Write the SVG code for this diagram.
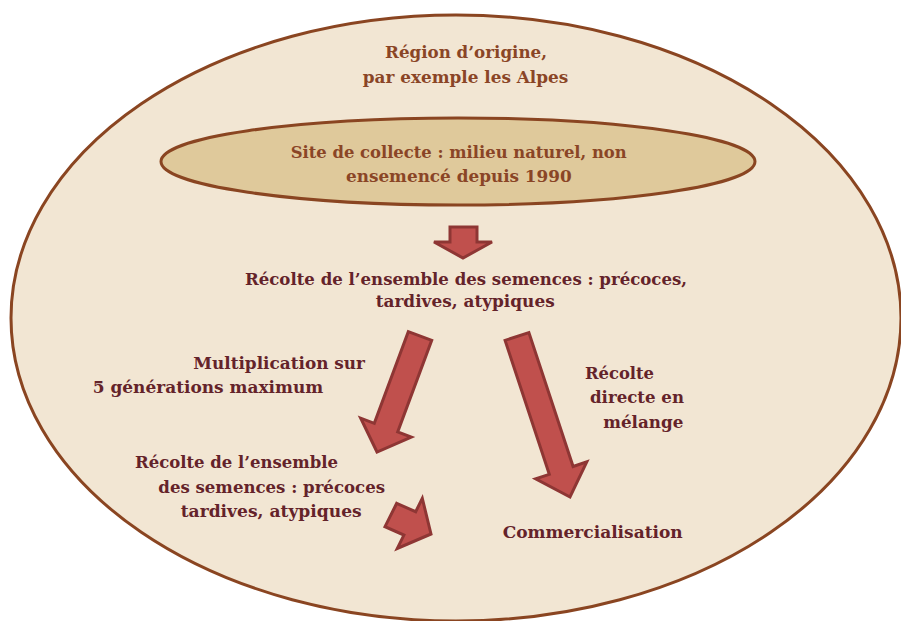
<svg xmlns="http://www.w3.org/2000/svg" width="901" height="621" viewBox="0 0 901 621">
<style>
  .t { font-family: "DejaVu Serif", "Liberation Serif", serif; font-weight: bold; }
  .big { font-size: 17.5px; fill: #8A4526; }
  .mid { font-size: 17px; fill: #64232A; }
  .ell { stroke: #8A4521; stroke-width: 3; }
  .arrow { fill: #C0504D; stroke: #8E3634; stroke-width: 3; stroke-linejoin: miter; }
</style>
<rect width="901" height="621" fill="#FFFFFF"/>
<g id="region">
  <ellipse class="ell" cx="456" cy="318" rx="445" ry="303" fill="#F2E6D3"/>
  <text class="t big" x="385" y="58.3" textLength="162" lengthAdjust="spacingAndGlyphs">Région d’origine,</text>
  <text class="t big" x="362.7" y="82.7" textLength="205.6" lengthAdjust="spacingAndGlyphs">par exemple les Alpes</text>
</g>
<g id="site">
  <ellipse class="ell" cx="458" cy="161.5" rx="297" ry="43.5" fill="#DFC99B"/>
  <text class="t big" x="290.7" y="158.3" textLength="336" lengthAdjust="spacingAndGlyphs">Site de collecte : milieu naturel, non</text>
  <text class="t big" x="346" y="181.7" textLength="225.7" lengthAdjust="spacingAndGlyphs">ensemencé depuis 1990</text>
</g>
<g id="recolte1">
  <text class="t mid" x="245" y="285.3" textLength="442" lengthAdjust="spacingAndGlyphs">Récolte de l’ensemble des semences : précoces,</text>
  <text class="t mid" x="375.7" y="306.7" textLength="179" lengthAdjust="spacingAndGlyphs">tardives, atypiques</text>
</g>
<g id="recolte2">
  <text class="t mid" x="135" y="468.3" textLength="203" lengthAdjust="spacingAndGlyphs">Récolte de l’ensemble</text>
  <text class="t mid" x="158.3" y="493.3" textLength="226.7" lengthAdjust="spacingAndGlyphs">des semences : précoces</text>
  <text class="t mid" x="180.7" y="516.7" textLength="181" lengthAdjust="spacingAndGlyphs">tardives, atypiques</text>
</g>
<g id="commercialisation">
  <text class="t mid" x="502.7" y="538.3" textLength="180" lengthAdjust="spacingAndGlyphs">Commercialisation</text>
</g>
<g id="connectors">
  <polygon class="arrow" points="450,227 477,227 477,242 492,242 463,258 434,242 450,242"/>
  <polygon class="arrow" points="408.3,331.7 431.7,340.3 397.7,431.9 411.3,437 377,452 360.7,418.2 374.3,423.3"/>
  <polygon class="arrow" points="505.1,340.4 528.9,332.6 573.1,466.5 586.8,461.9 570,497 535.6,478.9 549.3,474.3"/>
  <polygon class="arrow" points="396.7,503.3 415.7,511.7 422.3,498.4 431,534 397.3,548.4 403.9,535.1 385,526.7"/>
  <text class="t mid" x="193.3" y="369.3" textLength="171.7" lengthAdjust="spacingAndGlyphs">Multiplication sur</text>
  <text class="t mid" x="92.7" y="393.3" textLength="230.6" lengthAdjust="spacingAndGlyphs">5 générations maximum</text>
  <text class="t mid" x="585" y="379.3" textLength="69" lengthAdjust="spacingAndGlyphs">Récolte</text>
  <text class="t mid" x="590" y="403.3" textLength="94" lengthAdjust="spacingAndGlyphs">directe en</text>
  <text class="t mid" x="603.3" y="428.3" textLength="80" lengthAdjust="spacingAndGlyphs">mélange</text>
</g>
</svg>
